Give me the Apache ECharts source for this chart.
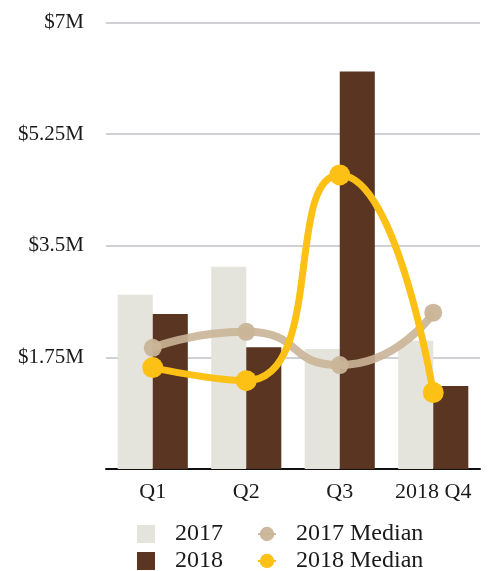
<!DOCTYPE html>
<html>
<head>
<meta charset="utf-8">
<script src="https://cdn.jsdelivr.net/npm/echarts@6/dist/echarts.min.js"></script>
<style>
  html, body { margin: 0; padding: 0; background: #fff; }
  #chart { width: 492px; height: 571px; }
</style>
</head>
<body>
<div id="chart"></div>
<script>
// Quarterly revenue, in millions of dollars
const quarters = ['Q1', 'Q2', 'Q3', '2018 Q4'];
const revenue2017 = [2.73, 3.17, 1.88, 2.01];
const revenue2018 = [2.43, 1.91, 6.23, 1.30];
const median2017 = [1.90, 2.15, 1.63, 2.45];
const median2018 = [1.59, 1.385, 4.61, 1.20];
const yTicks = [0, 1.75, 3.5, 5.25, 7];

const FONT = '"Liberation Serif", "DejaVu Serif", serif';
const INK = '#1a1a1a';
const COLORS = {
  b2017: '#e4e3dc',
  b2018: '#5a3522',
  m2017: '#c9b497',
  m2018: '#fdc015'
};

const legendText = { fontFamily: FONT, fontSize: 24, color: INK, padding: [0, 0, 0, 15] };
function legendAt(name, left, top, icon) {
  const l = {
    data: [name], left: left, top: top, orient: 'horizontal',
    itemWidth: 18, itemHeight: 18, padding: 0,
    textStyle: legendText, selectedMode: false
  };
  if (icon) l.icon = icon;
  return l;
}

const chart = echarts.init(document.getElementById('chart'), null, { renderer: 'canvas' });
chart.setOption({
  animation: false,
  backgroundColor: '#fff',
  grid: { left: 106, right: 12, top: 22.5, bottom: 102, containLabel: false },
  legend: [
    legendAt('2017', 137, 522, 'rect'),
    legendAt('2017 Median', 257, 522),
    legendAt('2018', 137, 549, 'rect'),
    legendAt('2018 Median', 257, 549)
  ],
  xAxis: {
    type: 'category',
    data: quarters,
    axisLine: { lineStyle: { color: '#111', width: 2 } },
    axisTick: { show: false },
    axisLabel: { interval: 0, fontFamily: FONT, fontSize: 22, color: INK, margin: 12 }
  },
  yAxis: {
    type: 'value',
    min: yTicks[0],
    max: yTicks[yTicks.length - 1],
    interval: yTicks[1] - yTicks[0],
    axisLine: { show: false },
    axisTick: { show: false },
    splitLine: { lineStyle: { color: '#cfd1d4', width: 2 } },
    axisLabel: {
      showMinLabel: false,
      fontFamily: FONT, fontSize: 21, color: INK, margin: 22,
      formatter: v => '$' + v + 'M'
    }
  },
  series: [
    {
      name: '2017', type: 'bar', data: revenue2017,
      itemStyle: { color: COLORS.b2017 },
      barGap: '0%', barCategoryGap: '25%'
    },
    {
      name: '2018', type: 'bar', data: revenue2018,
      itemStyle: { color: COLORS.b2018 },
      barGap: '0%', barCategoryGap: '25%'
    },
    {
      name: '2017 Median', type: 'line', data: median2017,
      smooth: 0.6, symbol: 'circle', symbolSize: 18,
      itemStyle: { color: COLORS.m2017, opacity: 0.95 },
      lineStyle: { color: COLORS.m2017, width: 8, opacity: 0.9 },
      z: 3
    },
    {
      name: '2018 Median', type: 'line', data: median2018,
      smooth: 0.6, symbol: 'circle', symbolSize: 21,
      itemStyle: { color: COLORS.m2018 },
      lineStyle: { color: COLORS.m2018, width: 7 },
      z: 4
    }
  ]
});
</script>
</body>
</html>
